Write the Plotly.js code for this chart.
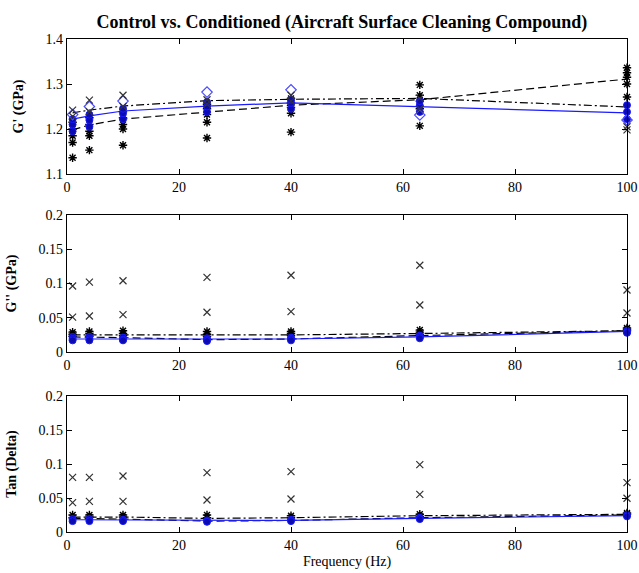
<!DOCTYPE html>
<html>
<head>
<meta charset="utf-8">
<script src="https://cdn.plot.ly/plotly-3.0.1.min.js"></script>
<style>html,body{margin:0;padding:0;background:#fff;}#chart{width:639px;height:573px;}</style>
</head>
<body>
<div id="chart"></div>
<script>
// Frequencies (Hz)
const freq = [1, 4, 10, 25, 40, 63, 100];

// ---- G' (GPa) ----
const gpCtrl1 = [1.136, 1.153, 1.164, 1.180, 1.193, 1.207, 1.271];
const gpCtrl2 = [1.170, 1.185, 1.200, 1.215, 1.235, 1.245, 1.300];
const gpCtrl3 = [1.185, 1.195, 1.210, 1.232, 1.248, 1.262, 1.315];
const gpCtrl4 = [1.200, 1.210, 1.225, 1.245, 1.258, 1.275, 1.325];
const gpCtrl5 = [1.215, 1.225, 1.238, 1.255, 1.268, 1.298, 1.336];
const gpCond1 = [1.195, 1.205, 1.222, 1.238, 1.245, 1.238, 1.222];
const gpCond2 = [1.210, 1.220, 1.235, 1.250, 1.258, 1.252, 1.238];
const gpCond3 = [1.222, 1.232, 1.245, 1.260, 1.265, 1.262, 1.253];
const gpDiam  = [1.232, 1.250, 1.262, 1.282, 1.287, 1.231, 1.220];
const gpXA    = [1.242, 1.264, 1.275, 1.265, 1.275, 1.268, 1.205];
const gpXB    = [1.228, 1.238, 1.250, 1.255, 1.262, 1.245, 1.198];
const gpDashed  = [1.198, 1.209, 1.222, 1.238, 1.253, 1.265, 1.311];
const gpDashDot = [1.236, 1.242, 1.251, 1.263, 1.266, 1.268, 1.249];
const gpBlue    = [1.222, 1.229, 1.240, 1.251, 1.258, 1.249, 1.236];

// ---- G'' (GPa) ----
const gppXHigh = [0.0964, 0.102, 0.104, 0.109, 0.112, 0.1266, 0.0905];
const gppXLow  = [0.051, 0.0526, 0.0545, 0.058, 0.059, 0.0686, 0.057];
const gppCtrl1 = [0.029, 0.030, 0.031, 0.030, 0.030, 0.032, 0.035];
const gppCtrl2 = [0.026, 0.027, 0.027, 0.026, 0.027, 0.029, 0.033];
const gppCtrl3 = [0.023, 0.023, 0.024, 0.023, 0.024, 0.026, 0.031];
const gppCond1 = [0.022, 0.022, 0.021, 0.020, 0.021, 0.024, 0.031];
const gppCond2 = [0.019, 0.019, 0.018, 0.018, 0.019, 0.022, 0.029];
const gppCond3 = [0.017, 0.017, 0.017, 0.016, 0.017, 0.020, 0.028];
const gppDashed  = [0.022, 0.022, 0.021, 0.018, 0.019, 0.024, 0.031];
const gppDashDot = [0.025, 0.025, 0.025, 0.024, 0.025, 0.027, 0.031];
const gppBlue    = [0.019, 0.019, 0.019, 0.018, 0.019, 0.022, 0.030];

// ---- Tan (Delta) ----
const tdXHigh = [0.0804, 0.0804, 0.0824, 0.0872, 0.0887, 0.099, 0.0725];
const tdXLow  = [0.0431, 0.045, 0.045, 0.047, 0.0485, 0.0554, 0.0496];
const tdCtrl1 = [0.025, 0.025, 0.025, 0.025, 0.024, 0.026, 0.028];
const tdCtrl2 = [0.021, 0.022, 0.022, 0.021, 0.021, 0.023, 0.026];
const tdCond1 = [0.019, 0.019, 0.018, 0.017, 0.018, 0.021, 0.025];
const tdCond2 = [0.016, 0.016, 0.016, 0.015, 0.016, 0.019, 0.023];
const tdDashed  = [0.020, 0.020, 0.019, 0.016, 0.017, 0.021, 0.025];
const tdDashDot = [0.022, 0.022, 0.022, 0.020, 0.021, 0.024, 0.026];
const tdBlue    = [0.018, 0.018, 0.017, 0.017, 0.017, 0.020, 0.024];

// Tick labels
const xTicks = [0, 20, 40, 60, 80, 100];
const gpTicks = [1.1, 1.2, 1.3, 1.4];
const smallTicks = [0, 0.05, 0.1, 0.15, 0.2];

const BLUE = '#1a1aff';
const DBLUE = '#0b0bb0';
const serif = 'Liberation Serif, Times New Roman, serif';

function ast(y, ax) {
  return {x: freq, y: y, xaxis: ax[0], yaxis: ax[1], mode: 'markers', cliponaxis: false,
    marker: {symbol: 'asterisk-open', size: 7, color: '#000', line: {color: '#000', width: 1.4}}};
}
function dot(y, ax) {
  return {x: freq, y: y, xaxis: ax[0], yaxis: ax[1], mode: 'markers', cliponaxis: false,
    marker: {symbol: 'circle', size: 7, color: DBLUE, line: {color: BLUE, width: 1}}};
}
function diam(y, ax) {
  return {x: freq, y: y, xaxis: ax[0], yaxis: ax[1], mode: 'markers', cliponaxis: false,
    marker: {symbol: 'diamond-open', size: 8, color: '#4a4aff', line: {color: '#4a4aff', width: 1.2}}};
}
function xm(y, ax) {
  return {x: freq, y: y, xaxis: ax[0], yaxis: ax[1], mode: 'markers', cliponaxis: false,
    marker: {symbol: 'x-thin-open', size: 7, color: '#333', line: {color: '#333', width: 1.2}}};
}
function ln(y, ax, dash, color, w) {
  return {x: freq, y: y, xaxis: ax[0], yaxis: ax[1], mode: 'lines',
    line: {color: color, width: w, dash: dash}};
}

const A1 = ['x', 'y'], A2 = ['x2', 'y2'], A3 = ['x3', 'y3'];

const data = [
  // Top
  ln(gpDashed, A1, '8px,4px', '#000', 1.2),
  ln(gpDashDot, A1, '8px,3px,2px,3px', '#000', 1.2),
  ln(gpBlue, A1, 'solid', BLUE, 1.2),
  ast(gpCtrl1, A1), ast(gpCtrl2, A1), ast(gpCtrl3, A1), ast(gpCtrl4, A1), ast(gpCtrl5, A1),
  dot(gpCond1, A1), dot(gpCond2, A1), dot(gpCond3, A1),
  diam(gpDiam, A1), xm(gpXA, A1), xm(gpXB, A1),
  // Middle
  ln(gppDashed, A2, '8px,4px', '#000', 1.2),
  ln(gppDashDot, A2, '8px,3px,2px,3px', '#000', 1.2),
  ln(gppBlue, A2, 'solid', BLUE, 1.2),
  xm(gppXHigh, A2), xm(gppXLow, A2),
  ast(gppCtrl1, A2), ast(gppCtrl2, A2), ast(gppCtrl3, A2),
  dot(gppCond1, A2), dot(gppCond2, A2), dot(gppCond3, A2),
  // Bottom
  ln(tdDashed, A3, '8px,4px', '#000', 1.2),
  ln(tdDashDot, A3, '8px,3px,2px,3px', '#000', 1.2),
  ln(tdBlue, A3, 'solid', BLUE, 1.2),
  xm(tdXHigh, A3), xm(tdXLow, A3),
  ast(tdCtrl1, A3), ast(tdCtrl2, A3),
  dot(tdCond1, A3), dot(tdCond2, A3)
];

const H = 493;
const dom = (top, bot) => [(532 - bot) / H, (532 - top) / H];

function xax(anchor) {
  return {anchor: anchor, range: [0, 100], tickvals: xTicks, ticktext: xTicks.map(String),
    ticks: 'inside', ticklen: 5, tickcolor: '#000', showline: true, linecolor: '#000', linewidth: 1.2,
    mirror: 'ticks', showgrid: false, zeroline: false, tickfont: {family: serif, size: 14, color: '#000'}};
}
function yax(anchor, range, tv, title, domain) {
  return {anchor: anchor, domain: domain, range: range, tickvals: tv, ticktext: tv.map(String),
    ticks: 'inside', ticklen: 5, tickcolor: '#000', showline: true, linecolor: '#000', linewidth: 1.2,
    mirror: 'ticks', showgrid: false, zeroline: false, tickfont: {family: serif, size: 14, color: '#000'},
    title: {text: title, font: {family: serif, size: 14, color: '#000', weight: 'bold'}, standoff: 18}};
}

const layout = {
  width: 639, height: 573,
  margin: {l: 67, r: 12, t: 39, b: 41},
  paper_bgcolor: '#fff', plot_bgcolor: '#fff',
  showlegend: false,
  title: {text: '<b>Control vs. Conditioned (Aircraft Surface Cleaning Compound)</b>',
    font: {family: serif, size: 18, color: '#000'}, x: 0.535, xanchor: 'center', y: 0.963, yanchor: 'middle'},
  xaxis: xax('y'),
  yaxis: yax('x', [1.1, 1.4], gpTicks, "G' (GPa)", dom(39, 174)),
  xaxis2: xax('y2'),
  yaxis2: yax('x2', [0, 0.2], smallTicks, "G'' (GPa)", dom(215, 352)),
  xaxis3: Object.assign(xax('y3'), {title: {text: 'Frequency (Hz)', font: {family: serif, size: 14, color: '#000'}, standoff: 4}}),
  yaxis3: yax('x3', [0, 0.2], smallTicks, 'Tan (Delta)', dom(396, 532))
};

Plotly.newPlot('chart', data, layout, {displayModeBar: false, staticPlot: true});
</script>
</body>
</html>
